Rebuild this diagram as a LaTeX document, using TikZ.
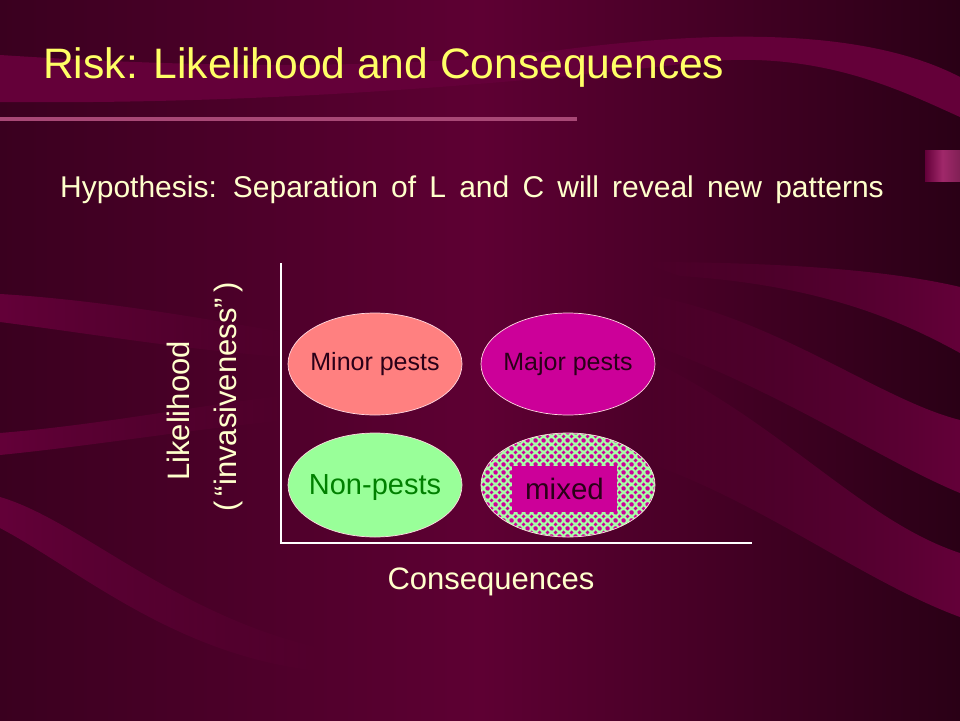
\documentclass[tikz,border=0pt]{standalone}
\usepackage{fontspec}
\setmainfont{Liberation Sans}
\usetikzlibrary{patterns,shapes.geometric,fadings}

\definecolor{bgleft}{HTML}{3A001F}
\definecolor{bgmid}{HTML}{5E0033}
\definecolor{bgright}{HTML}{2A0016}
\definecolor{swoosh}{HTML}{640039}
\definecolor{titleyellow}{HTML}{FFFF66}
\definecolor{cream}{HTML}{FFFFCC}
\definecolor{ruleline}{HTML}{A84876}
\definecolor{salmon}{HTML}{FF8080}
\definecolor{magentaX}{HTML}{CC0099}
\definecolor{ltgreen}{HTML}{A8FFA8}
\definecolor{nongreen}{HTML}{99FF99}
\definecolor{dkgreen}{HTML}{008000}
\definecolor{pinkbar}{HTML}{A0286A}
\definecolor{darktext}{HTML}{2A0018}
\definecolor{rimcol}{HTML}{FFD8E0}

\tikzfading[name=fadeR, left color=transparent!0, middle color=transparent!10, right color=transparent!100]
\tikzfading[name=fadeL, left color=transparent!100, middle color=transparent!10, right color=transparent!0]

\pgfdeclarepatternformonly{diadots}{\pgfqpoint{0pt}{0pt}}{\pgfqpoint{8pt}{8pt}}{\pgfqpoint{8pt}{8pt}}{%
  \pgfpathcircle{\pgfqpoint{4pt}{4pt}}{2.2pt}%
  \pgfpathcircle{\pgfqpoint{0pt}{0pt}}{2.2pt}%
  \pgfpathcircle{\pgfqpoint{8pt}{0pt}}{2.2pt}%
  \pgfpathcircle{\pgfqpoint{0pt}{8pt}}{2.2pt}%
  \pgfpathcircle{\pgfqpoint{8pt}{8pt}}{2.2pt}%
  \pgfusepath{fill}}

\tikzset{
  blob/.style={ellipse, minimum width=174pt, minimum height=#1, inner sep=0pt, draw=rimcol, line width=0.7pt},
  blob/.default=102pt,
  lbl/.style={inner sep=0pt},
  swooshband/.style={fill=swoosh},
  axisline/.style={draw=white, line width=1.2pt},
}

\begin{document}
\begin{tikzpicture}[x=1pt,y=-1pt]
\useasboundingbox (0,0) rectangle (960,720);
% background
\shade[left color=bgleft, right color=bgright, middle color=bgmid] (0,0) rectangle (960,720);
% swooshes
\fill[swooshband] (0,55) .. controls (200,68) and (400,70) .. (560,50)
   .. controls (700,32) and (860,25) .. (960,77) -- (960,117)
   .. controls (900,90) and (820,50) .. (700,62)
   .. controls (560,78) and (300,105) .. (0,102) -- cycle;
\fill[swooshband, path fading=fadeR] (0,294) .. controls (100,300) and (200,318) .. (300,335)
   -- (300,358) .. controls (200,352) and (100,335) .. (0,322) -- cycle;
\fill[swooshband, path fading=fadeR] (0,433) .. controls (100,425) and (200,405) .. (290,395)
   -- (290,420) .. controls (200,428) and (100,445) .. (0,455) -- cycle;
\fill[swooshband, path fading=fadeR] (0,497) .. controls (80,520) and (180,620) .. (330,650)
   -- (330,672) .. controls (180,660) and (80,570) .. (0,528) -- cycle;
\fill[swooshband, path fading=fadeL] (640,262) .. controls (760,262) and (880,268) .. (960,287)
   -- (960,353) .. controls (900,320) and (820,285) .. (680,276) -- cycle;
\fill[swooshband, path fading=fadeL] (650,295) .. controls (780,320) and (880,400) .. (960,420)
   -- (960,493) .. controls (880,460) and (780,390) .. (640,340) -- cycle;
\fill[swooshband, path fading=fadeL] (640,355) .. controls (780,420) and (860,520) .. (960,553)
   -- (960,617) .. controls (860,580) and (760,500) .. (640,460) -- cycle;
\shade[left color=swoosh, right color=pinkbar!80!black, middle color=pinkbar] (925,150) rectangle (960,181);

% title and rule
\node[lbl, anchor=base west, text=titleyellow, font=\fontsize{42.6}{48}\selectfont] (title) at (43,78) {Risk: Likelihood and Consequences};
\coordinate (ruleA) at (0,119);
\coordinate (ruleB) at (577,119);
\draw[ruleline, line width=4.5pt] (ruleA) -- (ruleB);

\node[lbl, anchor=base west, text=cream, font=\fontsize{30}{34}\selectfont] (hyp) at (60,197) {\spaceskip=13.2pt Hypothesis: Separation of L and C will reveal new patterns};

% axes
\coordinate (ytop) at (281,263);
\coordinate (origin) at (281,543);
\coordinate (xend) at (752,543);
\draw[axisline] (ytop) -- (origin) -- (xend);

% ellipses
\node[blob, fill=salmon] (minor) at (375,364) {};
\node[blob, fill=magentaX] (major) at (568,364) {};
\node[blob=104pt, fill=nongreen] (non) at (375,485) {};
\node[blob=104pt, preaction={fill=ltgreen}, pattern=diadots, pattern color=magentaX] (mixedblob) at (568,485) {};
\node[fill=magentaX, minimum width=105pt, minimum height=46pt, inner sep=0pt] (mixedbox) at (564.5,489) {};

\node[lbl, text=darktext, font=\fontsize{25}{28}\selectfont] (minortext) at (minor.center) {Minor pests};
\node[lbl, text=darktext, font=\fontsize{25}{28}\selectfont] (majortext) at (major.center) {Major pests};
\node[lbl, text=dkgreen, font=\fontsize{29}{32}\selectfont] (nontext) at ([yshift=-3pt]non.center) {Non-pests};
\node[lbl, text=darktext, font=\fontsize{29.5}{32}\selectfont] (mixedtext) at (mixedbox.center) {mixed};

% axis labels
\node[lbl, rotate=90, anchor=base, text=cream, font=\fontsize{31}{34}\selectfont] (likely) at (189,411) {Likelihood};
\node[lbl, rotate=90, anchor=base, text=cream, font=\fontsize{31}{34}\selectfont] (invas) at (236,397) {(\,“invasiveness”\,)};
\node[lbl, anchor=base, text=cream, font=\fontsize{31}{34}\selectfont] (conseq) at (491,589) {Consequences};
\end{tikzpicture}
\end{document}
